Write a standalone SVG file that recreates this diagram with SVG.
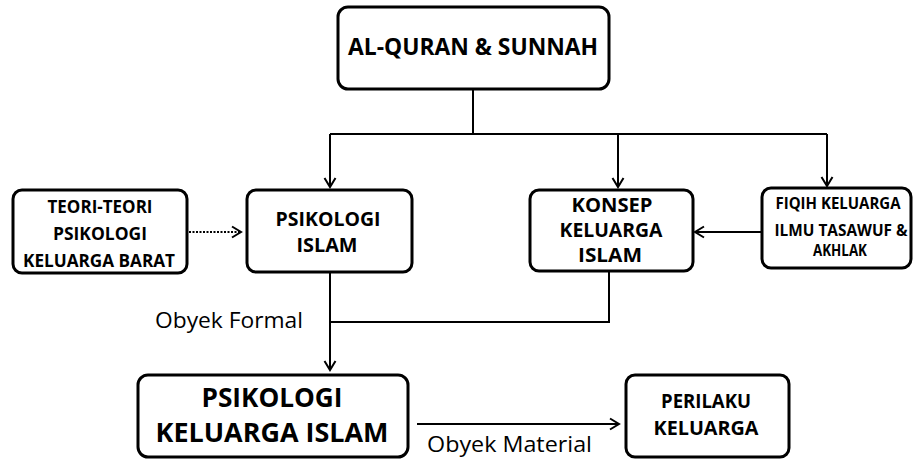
<svg xmlns="http://www.w3.org/2000/svg" width="913" height="459" viewBox="0 0 913 459">
<style>
.box{fill:#fff;stroke:#000;stroke-width:3}
.b{font-family:"Open Sans","Liberation Sans",sans-serif;font-weight:bold;fill:#000;text-anchor:middle}
.n{font-family:"Open Sans","Liberation Sans",sans-serif;fill:#000}
.c{fill:none;stroke:#000;stroke-width:2}
</style>
<defs>
<marker id="ah" markerUnits="userSpaceOnUse" markerWidth="14" markerHeight="14" viewBox="0 0 14 14" refX="12" refY="7" orient="auto">
<path d="M3,1.5 L12,7 L3,12.5" fill="none" stroke="#000" stroke-width="2"/>
</marker>
</defs>
<rect width="913" height="459" fill="#fff"/>
<g id="connectors">
<path class="c" d="M473,89 V134"/>
<path class="c" d="M330,134 H827"/>
<path class="c" d="M330,134 V187" marker-end="url(#ah)"/>
<path class="c" d="M618,134 V187" marker-end="url(#ah)"/>
<path class="c" d="M827,134 V186" marker-end="url(#ah)"/>
<path class="c" d="M189,232 H241" stroke-dasharray="2,1.5" marker-end="url(#ah)"/>
<path class="c" d="M761,232 H695" marker-end="url(#ah)"/>
<path class="c" d="M330,273 V370" marker-end="url(#ah)"/>
<path class="c" d="M609,272 V322 H330"/>
<path class="c" d="M417,424 H619" marker-end="url(#ah)"/>
<text class="n" x="155" y="328" font-size="21" textLength="148" lengthAdjust="spacingAndGlyphs">Obyek Formal</text>
<text class="n" x="427" y="452" font-size="21" textLength="165" lengthAdjust="spacingAndGlyphs">Obyek Material</text>
</g>
<g id="alquran">
<rect class="box" x="338" y="7" width="271" height="82" rx="10"/>
<text class="b" x="473" y="55" font-size="23.5" textLength="250" lengthAdjust="spacingAndGlyphs">AL-QURAN &amp; SUNNAH</text>
</g>
<g id="teori">
<rect class="box" x="13" y="190" width="174" height="83" rx="9"/>
<text class="b" x="100" y="213" font-size="17" textLength="105" lengthAdjust="spacingAndGlyphs">TEORI-TEORI</text>
<text class="b" x="100" y="240" font-size="17" textLength="94" lengthAdjust="spacingAndGlyphs">PSIKOLOGI</text>
<text class="b" x="99" y="267" font-size="17" textLength="152" lengthAdjust="spacingAndGlyphs">KELUARGA  BARAT</text>
</g>
<g id="psikologi-islam">
<rect class="box" x="247" y="190" width="165" height="82" rx="9"/>
<text class="b" x="328" y="226" font-size="20" textLength="105" lengthAdjust="spacingAndGlyphs">PSIKOLOGI</text>
<text class="b" x="327" y="252" font-size="20" textLength="61" lengthAdjust="spacingAndGlyphs">ISLAM</text>
</g>
<g id="konsep">
<rect class="box" x="530" y="190" width="163" height="81" rx="9"/>
<text class="b" x="612" y="212" font-size="20" textLength="81" lengthAdjust="spacingAndGlyphs">KONSEP</text>
<text class="b" x="611" y="237" font-size="20" textLength="103" lengthAdjust="spacingAndGlyphs">KELUARGA</text>
<text class="b" x="610" y="262" font-size="20" textLength="64" lengthAdjust="spacingAndGlyphs">ISLAM</text>
</g>
<g id="fiqih">
<rect class="box" x="762" y="188" width="149" height="80" rx="9"/>
<text class="b" x="838" y="209" font-size="15.5" textLength="125" lengthAdjust="spacingAndGlyphs">FIQIH KELUARGA</text>
<text class="b" x="841" y="236" font-size="15.5" textLength="133" lengthAdjust="spacingAndGlyphs">ILMU TASAWUF &amp;</text>
<text class="b" x="840" y="256" font-size="15.5" textLength="54" lengthAdjust="spacingAndGlyphs">AKHLAK</text>
</g>
<g id="psikologi-keluarga-islam">
<rect class="box" x="138" y="375" width="270" height="82" rx="10"/>
<text class="b" x="272" y="407" font-size="26" textLength="141" lengthAdjust="spacingAndGlyphs">PSIKOLOGI</text>
<text class="b" x="272" y="442" font-size="26" textLength="233" lengthAdjust="spacingAndGlyphs">KELUARGA ISLAM</text>
</g>
<g id="perilaku">
<rect class="box" x="626" y="375" width="163" height="82" rx="9"/>
<text class="b" x="706" y="408" font-size="20" textLength="90" lengthAdjust="spacingAndGlyphs">PERILAKU</text>
<text class="b" x="706" y="435" font-size="20" textLength="105" lengthAdjust="spacingAndGlyphs">KELUARGA</text>
</g>
</svg>
